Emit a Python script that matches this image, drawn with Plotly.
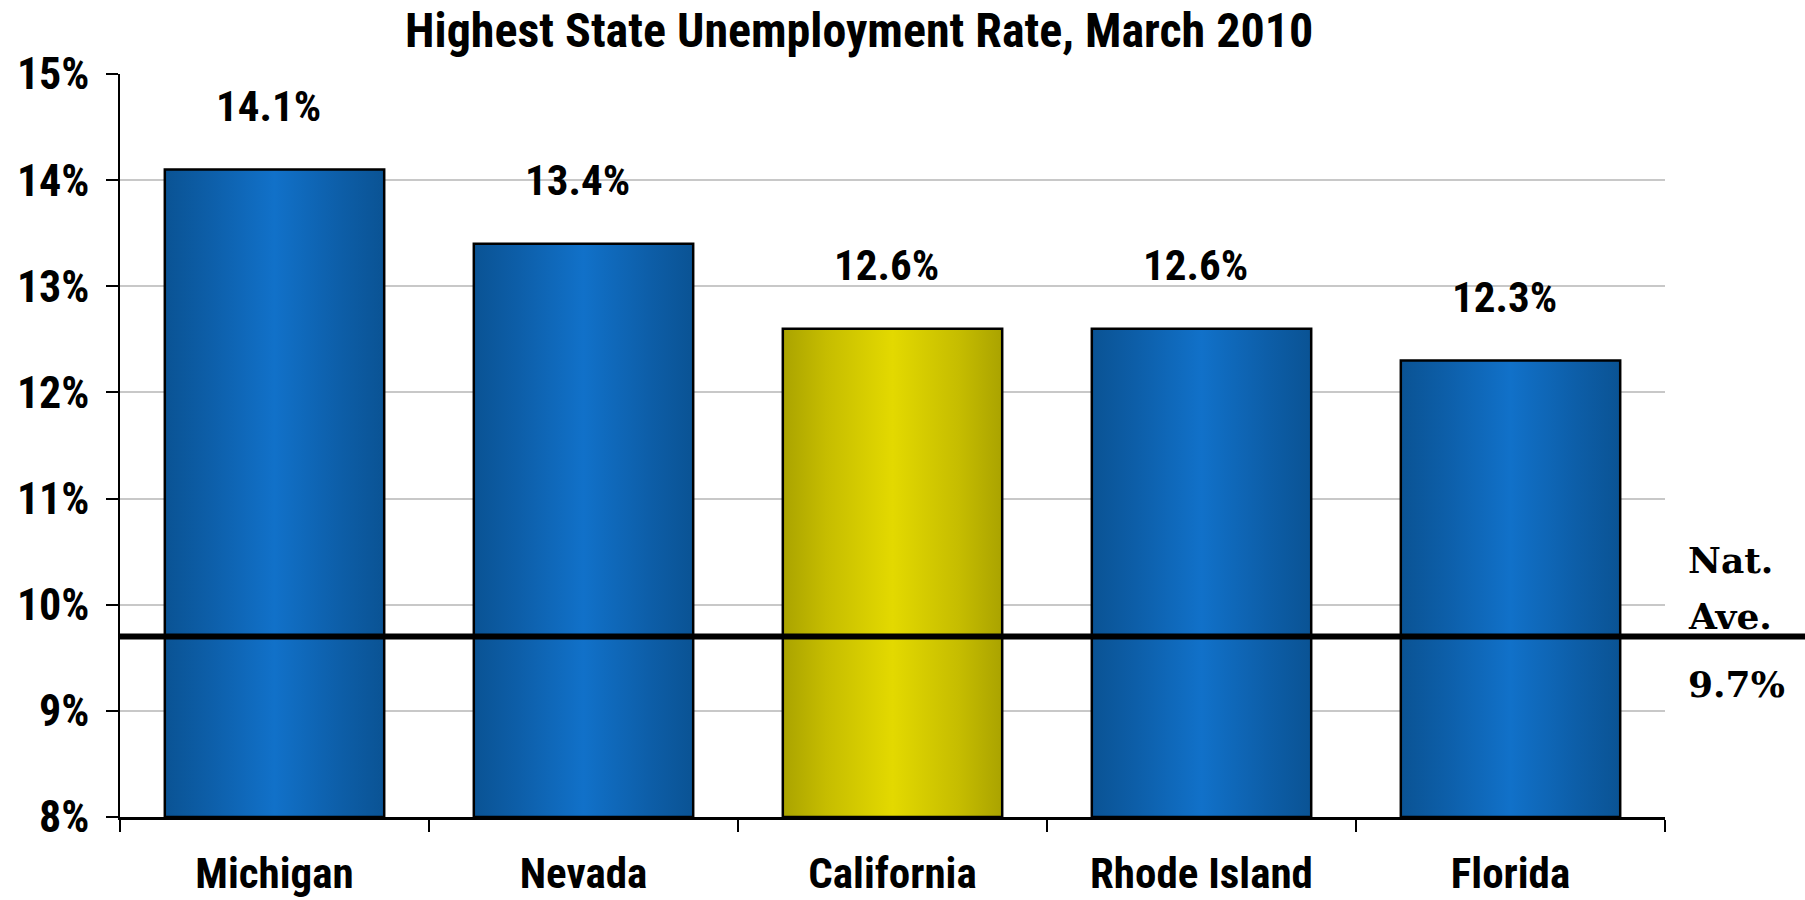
import plotly.graph_objects as go

states = ["Michigan", "Nevada", "California", "Rhode Island", "Florida"]
rates = [14.1, 13.4, 12.6, 12.6, 12.3]
value_labels = ["14.1%", "13.4%", "12.6%", "12.6%", "12.3%"]
highlight = [False, False, True, False, False]
nat_avg = 9.7
y_ticks = [8, 9, 10, 11, 12, 13, 14, 15]
y_ticklabels = ["8%", "9%", "10%", "11%", "12%", "13%", "14%", "15%"]

BASE = 8
HALF_W = 0.355
NARROW = "Liberation Sans Narrow, Arial Narrow, Roboto Condensed, Arial, sans-serif"

blue_scale = [[0, "#0a5394"], [0.2, "#0d5ea8"], [0.5, "#1171c9"], [0.8, "#0d5ea8"], [1, "#0a5394"]]
yellow_scale = [[0, "#aaa300"], [0.2, "#c6bd00"], [0.5, "#e3d900"], [0.8, "#c6bd00"], [1, "#aaa300"]]

fig = go.Figure()
for i, (s, v, hl) in enumerate(zip(states, rates, highlight)):
    x0, x1 = i - HALF_W, i + HALF_W
    fig.add_trace(go.Scatter(
        x=[x0, x0, x1, x1, x0], y=[BASE, v, v, BASE, BASE],
        mode="lines", fill="toself",
        line=dict(color="black", width=2.5),
        fillgradient=dict(type="horizontal", colorscale=yellow_scale if hl else blue_scale,
                          start=x0, stop=x1),
        hoverinfo="skip", showlegend=False, name=s,
    ))

annotations = []
for i, (v, t) in enumerate(zip(rates, value_labels)):
    annotations.append(dict(x=i - 0.02, y=v, xref="x", yref="y", text=t, showarrow=False,
                            yshift=64, font=dict(family=NARROW, size=43, color="black", weight="bold")))

serif = dict(family="DejaVu Serif, Liberation Serif, serif", size=36, color="black", weight="bold")
for txt, yy in [("Nat.", 10.42), ("Ave.", 9.89), ("9.7%", 9.25)]:
    annotations.append(dict(x=1.0136, y=yy, xref="paper", yref="y", text=txt, showarrow=False,
                            xanchor="left", yanchor="middle", font=serif))

fig.add_shape(type="line", xref="paper", yref="y", x0=0, x1=1.2, y0=nat_avg, y1=nat_avg,
              line=dict(color="black", width=6))

fig.update_layout(
    width=1805, height=900,
    margin=dict(l=120, r=140, t=74, b=83),
    paper_bgcolor="white", plot_bgcolor="white",
    title=dict(text="Highest State Unemployment Rate, March 2010", x=0.476, xanchor="center",
               y=0.967, yanchor="middle",
               font=dict(family=NARROW, size=48, color="black", weight="bold")),
    xaxis=dict(range=[-0.5, 4.5], tickmode="array", tickvals=list(range(len(states))),
               ticktext=states, ticks="", showgrid=False, zeroline=False,
               showline=True, linecolor="black", linewidth=2.5,
               ticklabelstandoff=17, automargin=False,
               tickfont=dict(family=NARROW, size=43, color="black", weight="bold"),
               minor=dict(tickvals=[i - 0.5 for i in range(len(states) + 1)], ticks="outside",
                          ticklen=12, tickwidth=1.5, tickcolor="black", showgrid=False)),
    yaxis=dict(range=[8, 15], tickmode="array", tickvals=y_ticks, ticktext=y_ticklabels,
               ticks="outside", ticklen=12, tickwidth=1.5, tickcolor="black",
               showline=True, linecolor="black", linewidth=1.5,
               showgrid=True, gridcolor="#c8c8c8", gridwidth=1.5, zeroline=False,
               ticklabelstandoff=8, automargin=False,
               tickfont=dict(family=NARROW, size=44, color="black", weight="bold")),
    annotations=annotations,
)

fig.write_html("out.html")
